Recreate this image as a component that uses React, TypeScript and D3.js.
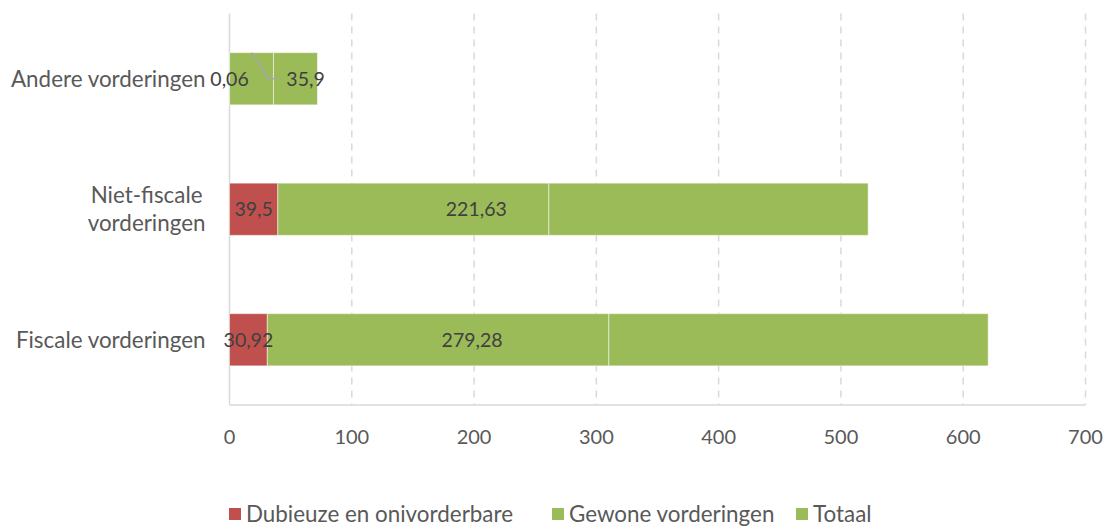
import { useEffect, useRef } from 'react';
import * as d3 from 'd3';

// categories top to bottom
const categories = ['Andere vorderingen', 'Niet-fiscale vorderingen', 'Fiscale vorderingen'];
const categoryLines = [['Andere vorderingen'], ['Niet-fiscale', 'vorderingen'], ['Fiscale vorderingen']];

const seriesNames = ['Dubieuze en onivorderbare', 'Gewone vorderingen', 'Totaal'];
const dubieuze = [0.06, 39.5, 30.92];
const gewone = [35.9, 221.63, 279.28];
const totaal = [35.96, 261.13, 310.2];

const xTicks = [0, 100, 200, 300, 400, 500, 600, 700];

const COLORS = ['#C0504D', '#9BBB59', '#9BBB59'];
const FONT = 'Lato, "Open Sans", sans-serif';

// manual label nudges (px) as in the source chart, per series/category
const LABEL_DX = [
  [0, 0, 0],
  [54, 63, 34],
];

const fmt = (v: number) => String(v).replace('.', ',');

export default function App() {
  const svgRef = useRef<SVGSVGElement | null>(null);

  useEffect(() => {
    if (!svgRef.current) return;
    const width = 1107;
    const height = 527;
    const margin = { top: 13.5, right: 21, bottom: 122, left: 229.5 };
    const innerW = width - margin.left - margin.right;
    const innerH = height - margin.top - margin.bottom;

    const svg = d3.select(svgRef.current);
    svg.selectAll('*').remove();

    const g = svg.append('g').attr('transform', `translate(${margin.left},${margin.top})`);

    const x = d3.scaleLinear().domain([0, 700]).range([0, innerW - 0.5]);
    const y = d3.scaleBand().domain(categories).range([0, innerH]).paddingInner(0.6).paddingOuter(0.3);

    // gridlines
    g.selectAll('.grid')
      .data(xTicks.slice(1))
      .enter()
      .append('line')
      .attr('x1', d => x(d))
      .attr('x2', d => x(d))
      .attr('y1', 0)
      .attr('y2', innerH)
      .attr('stroke', '#d9d9d9')
      .attr('stroke-width', 1.5)
      .attr('stroke-dasharray', '7,6');

    // axis lines
    g.append('line')
      .attr('x1', 0).attr('x2', 0).attr('y1', 0).attr('y2', innerH)
      .attr('stroke', '#d9d9d9').attr('stroke-width', 1.5);
    g.append('line')
      .attr('x1', 0).attr('x2', x(700)).attr('y1', innerH).attr('y2', innerH)
      .attr('stroke', '#d9d9d9').attr('stroke-width', 1.5);

    // tick labels
    g.selectAll('.tick')
      .data(xTicks)
      .enter()
      .append('text')
      .attr('x', d => x(d))
      .attr('y', innerH + 39)
      .attr('text-anchor', 'middle')
      .attr('fill', '#595959')
      .attr('font-family', FONT)
      .attr('font-size', 20)
      .text(d => String(d));

    // stacked data
    const rows = categories.map((c, i) => ({ cat: c, s0: dubieuze[i], s1: gewone[i], s2: totaal[i] }));
    const stack = d3.stack<any>().keys(['s0', 's1', 's2'])(rows);

    stack.forEach((layer, si) => {
      g.selectAll(`.bar${si}`)
        .data(layer)
        .enter()
        .append('rect')
        .attr('x', d => x(d[0]))
        .attr('y', d => y(d.data.cat) as number)
        .attr('width', d => x(d[1]) - x(d[0]))
        .attr('height', y.bandwidth())
        .attr('fill', COLORS[si])
        .attr('stroke', '#ffffff')
        .attr('stroke-opacity', 0.5)
        .attr('stroke-width', 1);
    });

    // data labels (first two series)
    [0, 1].forEach(si => {
      const layer = stack[si];
      layer.forEach((d, ci) => {
        const cx = (x(d[0]) + x(d[1])) / 2 + LABEL_DX[si][ci];
        const cy = (y(d.data.cat) as number) + y.bandwidth() / 2;
        g.append('text')
          .attr('x', cx)
          .attr('y', cy)
          .attr('dy', '0.35em')
          .attr('text-anchor', 'middle')
          .attr('fill', '#404040')
          .attr('font-family', FONT)
          .attr('font-size', 19.5)
          .text(fmt(si === 0 ? dubieuze[ci] : gewone[ci]));
        if (LABEL_DX[si][ci] > 50 && ci === 0) {
          // leader line for the moved label
          const sx = (x(d[0]) + x(d[1])) / 2;
          const top = y(d.data.cat) as number;
          g.append('path')
            .attr('d', d3.line()([[sx, top], [sx + 17, cy], [cx - 27, cy]]))
            .attr('fill', 'none')
            .attr('stroke', '#a6a6a6')
            .attr('stroke-width', 1.5);
        }
      });
    });

    // category labels
    const labelRight = -24;
    categoryLines.forEach((lines, i) => {
      const cy = (y(categories[i]) as number) + y.bandwidth() / 2;
      const t = g.append('text')
        .attr('fill', '#595959')
        .attr('font-family', FONT)
        .attr('font-size', 22.4)
        .attr('text-anchor', 'middle');
      const spans = lines.map((ln, li) =>
        t.append('tspan')
          .attr('y', cy + (li - (lines.length - 1) / 2) * 28.5)
          .attr('dy', '0.35em')
          .text(ln)
      );
      const maxW = d3.max(spans, s => (s.node() as SVGTSpanElement).getComputedTextLength()) || 0;
      spans.forEach(s => s.attr('x', labelRight - maxW / 2));
    });

    // legend
    const legendX = [229, 552, 796];
    const legend = svg.append('g');
    seriesNames.forEach((name, i) => {
      legend.append('rect')
        .attr('x', legendX[i])
        .attr('y', 508)
        .attr('width', 12)
        .attr('height', 12)
        .attr('fill', COLORS[i]);
      legend.append('text')
        .attr('x', legendX[i] + 17)
        .attr('y', 514)
        .attr('dy', '0.35em')
        .attr('fill', '#595959')
        .attr('font-family', FONT)
        .attr('font-size', 22.4)
        .text(name);
    });
  }, []);

  return (
    <div style={{ position: 'absolute', left: 0, top: 0 }}>
      <svg ref={svgRef} width={1107} height={527} style={{ display: 'block', background: '#fff' }} />
    </div>
  );
}
